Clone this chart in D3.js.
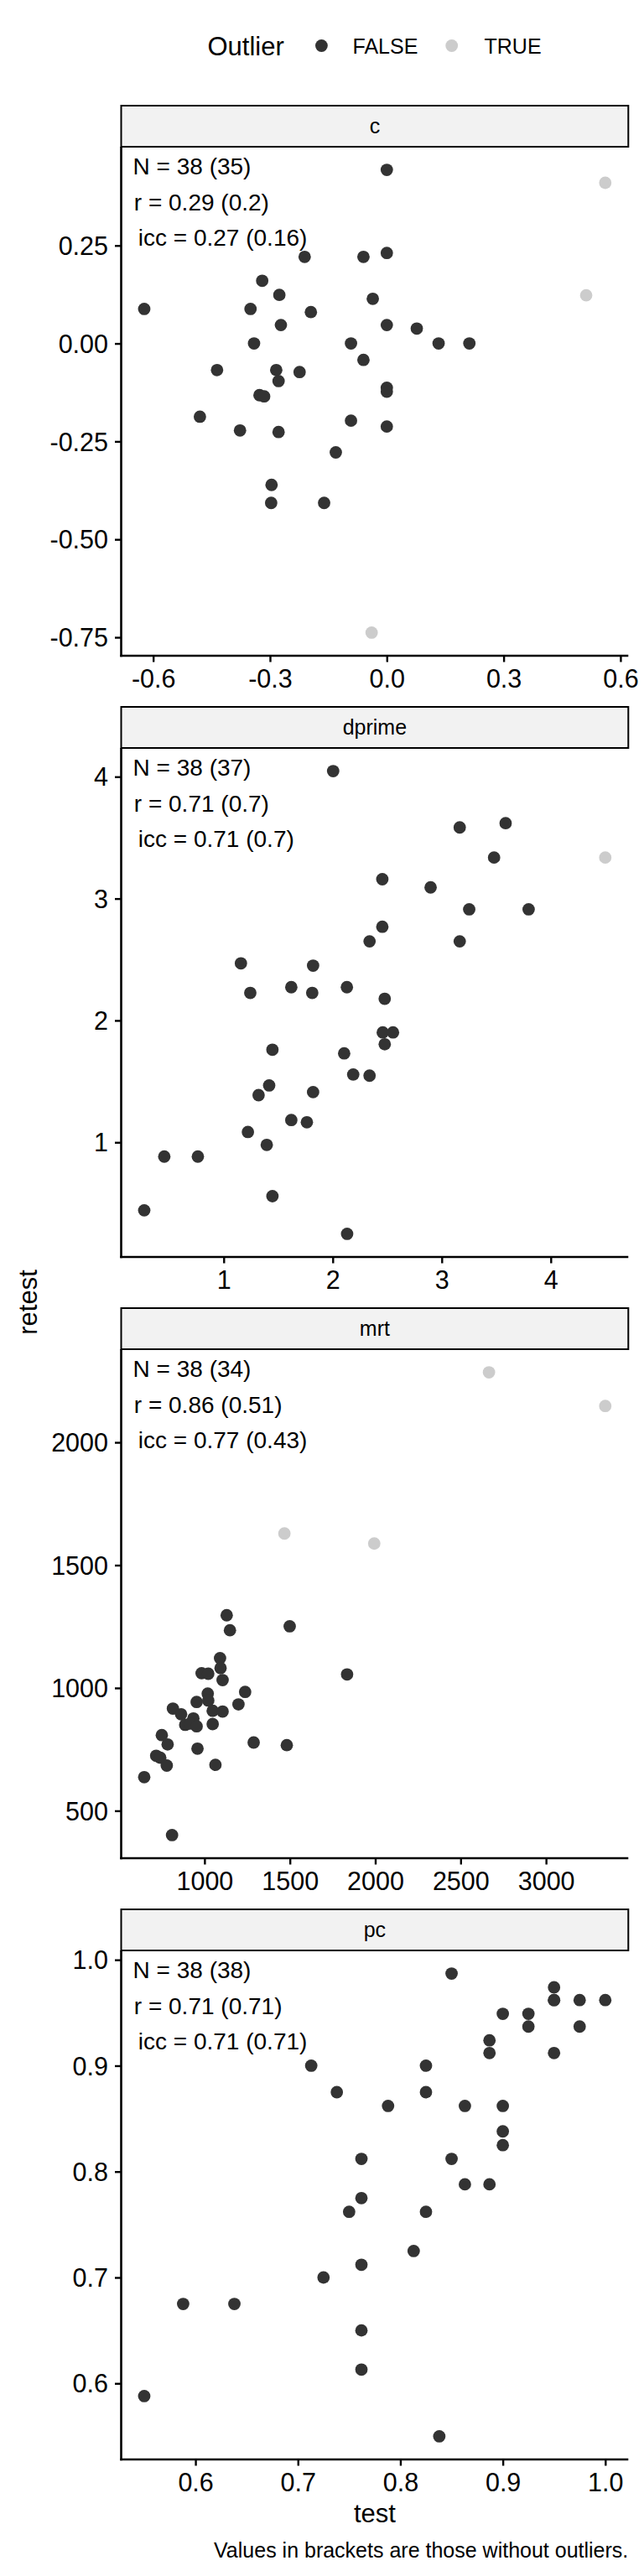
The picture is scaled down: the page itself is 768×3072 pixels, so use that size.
<!DOCTYPE html>
<html>
<head>
<meta charset="utf-8">
<script src="https://cdn.jsdelivr.net/npm/d3@7/dist/d3.min.js"></script>
<style>
  body { margin: 0; background: #fff; }
  text { font-family: "Liberation Sans", Arial, Helvetica, sans-serif; fill: #000; }
</style>
</head>
<body>
<svg id="chart"></svg>
<script>
// =============================================================================
// DATA
// =============================================================================

const facetNames = ['c', 'dprime', 'mrt', 'pc'];

// c
const cTest    = [0.0, 0.561, -0.211, -0.06, 0.0, -0.32, -0.276, -0.036, 0.512, -0.623,
                  -0.35, -0.195, -0.272, 0.0, 0.077, -0.341, -0.092, 0.133, 0.212, -0.06,
                  -0.436, -0.284, -0.224, -0.278, 0.0, 0.0, -0.327, -0.315, -0.48, -0.092,
                  0.0, -0.377, -0.278, -0.131, -0.296, -0.297, -0.161, -0.039];
const cRetest  = [0.443, 0.410, 0.221, 0.221, 0.231, 0.160, 0.124, 0.114, 0.123, 0.088,
                  0.088, 0.080, 0.047, 0.047, 0.038, 0.0, 0.0, 0.0, 0.0, -0.042,
                  -0.068, -0.068, -0.073, -0.096, -0.113, -0.123, -0.132, -0.135, -0.187, -0.197,
                  -0.212, -0.222, -0.226, -0.278, -0.361, -0.407, -0.407, -0.738];
const cOutlier = [0, 1, 0, 0, 0, 0, 0, 0, 1, 0, 0, 0, 0, 0, 0, 0, 0, 0, 0, 0,
                  0, 0, 0, 0, 0, 0, 0, 0, 0, 0, 0, 0, 0, 0, 0, 0, 0, 1];

// dprime
const dTest    = [2.004, 3.165, 3.586, 3.48, 4.5, 2.455, 2.898, 3.252, 3.797, 2.455,
                  2.338, 3.165, 1.158, 1.82, 1.244, 1.62, 1.812, 2.13, 2.477, 2.459,
                  2.553, 1.447, 2.477, 2.105, 2.188, 2.338, 1.417, 1.32, 1.82, 1.62,
                  1.763, 1.222, 1.395, 0.455, 0.763, 1.447, 0.271, 2.132];
const dRetest  = [4.046, 3.584, 3.619, 3.337, 3.337, 3.159, 3.092, 2.912, 2.912, 2.769,
                  2.649, 2.649, 2.469, 2.45, 2.226, 2.273, 2.226, 2.273, 2.178, 1.902,
                  1.902, 1.76, 1.805, 1.73, 1.556, 1.547, 1.467, 1.387, 1.412, 1.183,
                  1.165, 1.085, 0.979, 0.883, 0.883, 0.558, 0.442, 0.249];
const dOutlier = [0, 0, 0, 0, 1, 0, 0, 0, 0, 0, 0, 0, 0, 0, 0, 0, 0, 0, 0, 0,
                  0, 0, 0, 0, 0, 0, 0, 0, 0, 0, 0, 0, 0, 0, 0, 0, 0, 0];

// mrt
const mTest    = [2666, 3347, 1468, 1994, 1130, 1149, 1499, 1091, 1094, 983,
                  1022, 1835, 1106, 1238, 1019, 954, 1022, 1199, 815, 863,
                  1048, 1106, 935, 887, 916, 954, 1048, 750, 784, 1288,
                  1482, 959, 717, 741, 779, 1064, 647, 810];
const mRetest  = [2285, 2148, 1629, 1588, 1296, 1235, 1251, 1121, 1081, 1060,
                  1058, 1055, 1032, 984, 977, 943, 949, 933, 916, 893,
                  907, 904, 876, 850, 855, 844, 853, 808, 770, 778,
                  767, 753, 724, 716, 684, 687, 637, 401];
const mOutlier = [1, 1, 1, 1, 0, 0, 0, 0, 0, 0, 0, 0, 0, 0, 0, 0, 0, 0, 0, 0,
                  0, 0, 0, 0, 0, 0, 0, 0, 0, 0, 0, 0, 0, 0, 0, 0, 0, 0];

// pc
const pTest    = [0.850, 0.950, 0.950, 0.975, 1.0, 0.900, 0.925, 0.925, 0.975, 0.887,
                  0.887, 0.950, 0.713, 0.825, 0.738, 0.825, 0.788, 0.863, 0.900, 0.900,
                  0.900, 0.762, 0.850, 0.863, 0.887, 0.762, 0.750, 0.825, 0.813, 0.762,
                  0.725, 0.588, 0.638, 0.762, 0.762, 0.550, 0.838, 0.950];
const pRetest  = [0.987, 0.974, 0.962, 0.962, 0.962, 0.949, 0.949, 0.937, 0.937, 0.924,
                  0.912, 0.912, 0.900, 0.900, 0.875, 0.875, 0.862, 0.862, 0.862, 0.838,
                  0.825, 0.812, 0.812, 0.788, 0.788, 0.775, 0.762, 0.762, 0.725, 0.712,
                  0.700, 0.675, 0.675, 0.650, 0.613, 0.588, 0.550, 0.962];
const pOutlier = [0, 0, 0, 0, 0, 0, 0, 0, 0, 0, 0, 0, 0, 0, 0, 0, 0, 0, 0, 0,
                  0, 0, 0, 0, 0, 0, 0, 0, 0, 0, 0, 0, 0, 0, 0, 0, 0, 0];

// annotation lines per facet
const statN   = ['N = 38 (35)', 'N = 38 (37)', 'N = 38 (34)', 'N = 38 (38)'];
const statR   = ['r = 0.29 (0.2)', 'r = 0.71 (0.7)', 'r = 0.86 (0.51)', 'r = 0.71 (0.71)'];
const statIcc = ['icc = 0.27 (0.16)', 'icc = 0.71 (0.7)', 'icc = 0.77 (0.43)', 'icc = 0.71 (0.71)'];

// ticks
const xTickValues = [[-0.6, -0.3, 0, 0.3, 0.6], [1, 2, 3, 4], [1000, 1500, 2000, 2500, 3000], [0.6, 0.7, 0.8, 0.9, 1.0]];
const xTickLabels = [['-0.6', '-0.3', '0.0', '0.3', '0.6'], ['1', '2', '3', '4'], ['1000', '1500', '2000', '2500', '3000'], ['0.6', '0.7', '0.8', '0.9', '1.0']];
const yTickValues = [[0.25, 0, -0.25, -0.5, -0.75], [1, 2, 3, 4], [500, 1000, 1500, 2000], [0.6, 0.7, 0.8, 0.9, 1.0]];
const yTickLabels = [['0.25', '0.00', '-0.25', '-0.50', '-0.75'], ['1', '2', '3', '4'], ['500', '1000', '1500', '2000'], ['0.6', '0.7', '0.8', '0.9', '1.0']];

const legendLabels = ['FALSE', 'TRUE'];

// =============================================================================
// DRAW
// =============================================================================

const W = 768, H = 3072;
const COL_FALSE = '#333333', COL_TRUE = '#CCCCCC';
const panelLeft = 144.5, panelRight = 749.3;
const firstTop = 126, period = 717, stripH = 49, panelH = 607;
const ptR = 7.4;

const svg = d3.select('#chart').attr('width', W).attr('height', H);
svg.append('rect').attr('width', W).attr('height', H).attr('fill', '#fff');

const facetData = [
    [cTest, cRetest, cOutlier],
    [dTest, dRetest, dOutlier],
    [mTest, mRetest, mOutlier],
    [pTest, pRetest, pOutlier],
];

// ggplot-style 5% expansion of the data range
function expand(vals) {
    const [lo, hi] = d3.extent(vals);
    const pad = (hi - lo) * 0.05;
    return [lo - pad, hi + pad];
}

facetNames.forEach((name, i) => {
    const [tx, ty, out] = facetData[i];
    const pts = tx.map((v, k) => ({ test: v, retest: ty[k], outlier: out[k] === 1 }));

    const top = firstTop + i * period;
    const panelTop = top + stripH;
    const panelBottom = panelTop + panelH;

    const x = d3.scaleLinear().domain(expand(tx)).range([panelLeft, panelRight]);
    const y = d3.scaleLinear().domain(expand(ty)).range([panelBottom, panelTop]);

    const g = svg.append('g').attr('class', 'facet');

    // strip
    g.append('rect')
        .attr('x', panelLeft).attr('y', top)
        .attr('width', panelRight - panelLeft).attr('height', stripH)
        .attr('fill', '#F2F2F2')
        .attr('stroke', '#000').attr('stroke-width', 2);
    g.append('text')
        .attr('x', (panelLeft + panelRight) / 2)
        .attr('y', top + stripH / 2 + 8.5)
        .attr('text-anchor', 'middle')
        .attr('font-size', '25px')
        .attr('fill', '#1a1a1a')
        .text(name);

    // points (outliers in light grey)
    g.selectAll('.pt')
        .data(pts)
        .enter()
        .append('circle')
        .attr('class', 'pt')
        .attr('cx', d => x(d.test))
        .attr('cy', d => y(d.retest))
        .attr('r', ptR)
        .attr('fill', d => d.outlier ? COL_TRUE : COL_FALSE);

    // axes
    const xAxis = g.append('g')
        .attr('transform', `translate(0,${panelBottom})`)
        .call(d3.axisBottom(x)
            .tickValues(xTickValues[i])
            .tickFormat((d, k) => xTickLabels[i][k])
            .tickSize(7.5).tickSizeOuter(0).tickPadding(7));
    const yAxis = g.append('g')
        .attr('transform', `translate(${panelLeft},0)`)
        .call(d3.axisLeft(y)
            .tickValues(yTickValues[i])
            .tickFormat((d, k) => yTickLabels[i][k])
            .tickSize(7.5).tickSizeOuter(0).tickPadding(8));

    [xAxis, yAxis].forEach(ax => {
        ax.select('.domain').attr('stroke', '#000').attr('stroke-width', 2.6);
        ax.selectAll('.tick line').attr('stroke', '#000').attr('stroke-width', 2.4);
        ax.selectAll('.tick text')
            .attr('font-size', '30.5px')
            .attr('font-family', '"Liberation Sans", Arial, sans-serif')
            .attr('fill', '#000');
    });
    xAxis.selectAll('.tick text').attr('dy', null).attr('y', 37.5 - 30.5 * 0.71 + 0).attr('dominant-baseline', 'hanging');
    yAxis.selectAll('.tick text').attr('dy', '0.35em');
    // the y-axis line joins the x-axis line at the corner
    yAxis.select('.domain').attr('d', `M0,${panelTop}V${panelBottom + 1.3}`);
    xAxis.select('.domain').attr('d', `M${panelLeft - 1.3},0H${panelRight}`);

    // stats annotation
    const ann = [statN[i], statR[i], statIcc[i]];
    const annX = [158.6, 159.8, 164.8];
    const annY = [33, 75.5, 118];
    g.selectAll('.ann')
        .data(ann)
        .enter()
        .append('text')
        .attr('class', 'ann')
        .attr('x', (d, k) => annX[k])
        .attr('y', (d, k) => panelTop + annY[k])
        .attr('font-size', '28px')
        .text(d => d);
});

// axis titles
svg.append('text')
    .attr('transform', `translate(44,1553) rotate(-90)`)
    .attr('text-anchor', 'middle')
    .attr('font-size', '31px')
    .text('retest');

svg.append('text')
    .attr('x', (panelLeft + panelRight) / 2)
    .attr('y', 3008)
    .attr('text-anchor', 'middle')
    .attr('font-size', '31px')
    .text('test');

// caption
svg.append('text')
    .attr('x', panelRight)
    .attr('y', 3050)
    .attr('text-anchor', 'end')
    .attr('font-size', '25px')
    .text('Values in brackets are those without outliers.');

// legend
const legend = svg.append('g').attr('class', 'legend');
legend.append('text')
    .attr('x', 247.5).attr('y', 66)
    .attr('font-size', '31px')
    .text('Outlier');
const keyX = [383.4, 538.7];
const labX = [420.5, 577.5];
legend.selectAll('.key')
    .data(legendLabels)
    .enter()
    .append('circle')
    .attr('class', 'key')
    .attr('cx', (d, k) => keyX[k])
    .attr('cy', 54.5)
    .attr('r', ptR)
    .attr('fill', (d, k) => k === 0 ? COL_FALSE : COL_TRUE);
legend.selectAll('.lab')
    .data(legendLabels)
    .enter()
    .append('text')
    .attr('class', 'lab')
    .attr('x', (d, k) => labX[k])
    .attr('y', 63.5)
    .attr('font-size', '25px')
    .text(d => d);
</script>
</body>
</html>
